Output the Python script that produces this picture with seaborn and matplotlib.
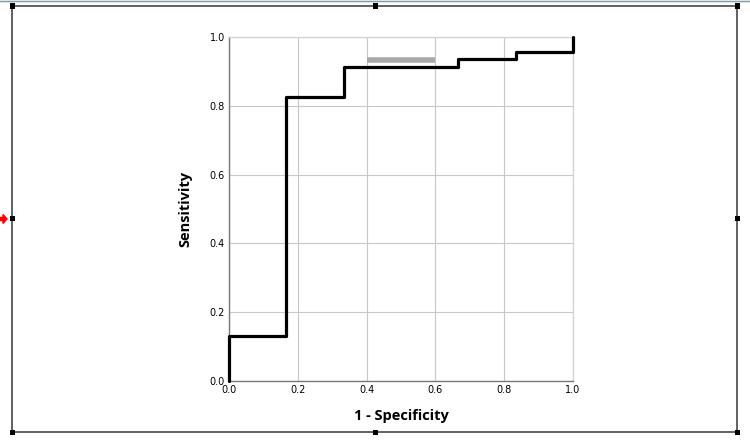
import numpy as np
import pandas as pd
import matplotlib
matplotlib.use('Agg')
import matplotlib.pyplot as plt
import seaborn as sns
from matplotlib.patches import Rectangle, FancyArrow
from matplotlib.lines import Line2D

# ROC curve corners
fpr = [0.0, 0.0, 0.167, 0.167, 0.333, 0.333, 0.667, 0.667, 0.833, 0.833, 1.0, 1.0]
tpr = [0.0, 0.130, 0.130, 0.826, 0.826, 0.913, 0.913, 0.935, 0.935, 0.957, 0.957, 1.0]

# grey highlight segment
hl_x = [0.4, 0.6]
hl_y = [0.933, 0.933]

ticks = [0.0, 0.2, 0.4, 0.6, 0.8, 1.0]

roc = pd.DataFrame({'fpr': fpr, 'tpr': tpr})

sns.set_style('white')
plt.rcParams['font.family'] = ['Open Sans', 'DejaVu Sans']

fig = plt.figure(figsize=(7.5, 4.46), dpi=100)
ax = fig.add_axes([229 / 750, 65 / 446, 344 / 750, 344 / 446])

ax.plot(hl_x, hl_y, color='#a8a8a8', linewidth=4, solid_capstyle='butt', zorder=2)
sns.lineplot(data=roc, x='fpr', y='tpr', sort=False, estimator=None, color='black',
             linewidth=2.3, ax=ax, zorder=3, clip_on=False)

ax.set_xlim(0, 1)
ax.set_ylim(0, 1)
ax.set_xticks(ticks)
ax.set_yticks(ticks)
ax.set_xticklabels([f'{t:.1f}' for t in ticks], fontsize=7, family='DejaVu Sans')
ax.set_yticklabels([f'{t:.1f}' for t in ticks], fontsize=7, family='DejaVu Sans')
ax.tick_params(length=0, pad=3, labelcolor='black')
ax.grid(True, color='#c8c8c8', linewidth=0.8)
for s in ['top', 'right']:
    ax.spines[s].set_color('#d0d0d0')
    ax.spines[s].set_linewidth(0.8)
for s in ['left', 'bottom']:
    ax.spines[s].set_color('#777777')
    ax.spines[s].set_linewidth(1.0)

ax.set_xlabel('1 - Specificity', fontsize=10.5, fontweight='bold', labelpad=10,
              color='black')
ax.set_ylabel('Sensitivity', fontsize=10.5, fontweight='bold', labelpad=12,
              color='black')


# selection frame around the chart (pixel coords)
def px(x, y):
    return x / 750, 1 - y / 446


fig.add_artist(Rectangle((0, 1 - 3 / 446), 1, 3 / 446, transform=fig.transFigure,
                         facecolor='#d6ebf3', edgecolor='none'))
fig.add_artist(Line2D([0, 1], [1 - 1 / 446, 1 - 1 / 446], transform=fig.transFigure,
                      color='#9a9a9a', linewidth=0.8))
x0, y0 = px(12, 6)
x1, y1 = px(737, 432)
fig.add_artist(Rectangle((x0, y1), x1 - x0, y0 - y1, transform=fig.transFigure,
                         facecolor='none', edgecolor='#555555', linewidth=1.3))
for hx in [12, 375, 737]:
    for hy in [6, 219, 432]:
        if hx == 375 and hy == 219:
            continue
        cx, cy = px(hx, hy)
        fig.add_artist(Rectangle((cx - 2.5 / 750, cy - 2.5 / 446), 5 / 750, 5 / 446,
                                 transform=fig.transFigure, facecolor='black',
                                 edgecolor='none'))
ax0, ay0 = px(0, 219)
fig.add_artist(FancyArrow(ax0, ay0, 7 / 750, 0, width=3 / 446, head_width=9 / 446,
                          head_length=4 / 750, length_includes_head=True,
                          transform=fig.transFigure, color='red'))

fig.savefig('out.png', dpi=100)
